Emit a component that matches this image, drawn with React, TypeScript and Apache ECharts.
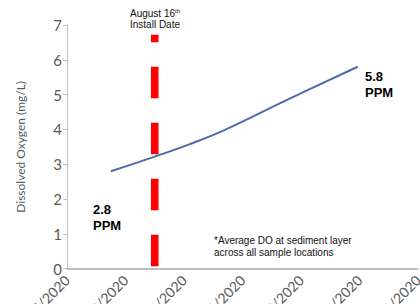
import React, { useEffect, useRef } from "react";
import * as echarts from "echarts";

// x positions are in "tick intervals" (weekly ticks), y in mg/L
const tickLabels = ["8/5/2020", "8/12/2020", "8/19/2020", "8/26/2020", "9/2/2020", "9/9/2020", "9/16/2020"];
const doX = [0.75, 1.5, 2.1, 2.7, 3.7, 4.97];
const doY = [2.8, 3.22, 3.58, 3.99, 4.8, 5.8];
const installX = 1.5;
const installYRange = [0.07, 6.72];
const startLabel = "2.8\nPPM";
const endLabel = "5.8\nPPM";

export default function App() {
  const ref = useRef<HTMLDivElement>(null);
  useEffect(() => {
    if (!ref.current) return;
    const chart = echarts.init(ref.current, null, { renderer: "svg" });
    const gray = "#595959";
    chart.setOption({
      animation: false,
      grid: { left: 67, right: 2, top: 25, bottom: 35.3, containLabel: false, outerBoundsMode: "none" },
      xAxis: {
        type: "value",
        min: 0,
        max: 6,
        interval: 1,
        axisLine: { show: true, lineStyle: { color: "#ABABAB", width: 1.5 } },
        axisTick: { show: false },
        splitLine: { show: false },
        axisLabel: {
          rotate: 45,
          margin: 9,
          color: gray,
          fontFamily: "Lato",
          fontSize: 14,
          formatter: (v: number) => tickLabels[Math.round(v)] ?? "",
        },
      },
      yAxis: {
        type: "value",
        min: 0,
        max: 7,
        interval: 1,
        name: "Dissolved Oxygen (mg/L)",
        nameLocation: "middle",
        nameGap: 41,
        nameTextStyle: { color: gray, fontFamily: "Lato", fontSize: 12 },
        axisLine: { show: true, lineStyle: { color: "#BFBFBF", width: 1 } },
        axisTick: { show: true, length: 4, lineStyle: { color: "#BFBFBF" } },
        splitLine: { show: false },
        axisLabel: { color: gray, fontFamily: "Lato", fontSize: 15, margin: 5 },
      },
      series: [
        {
          type: "line",
          data: installYRange.map((y) => [installX, y]),
          symbol: "none",
          lineStyle: { color: "#FF0000", width: 7.6, type: [31.6, 24.4], cap: "butt" },
          z: 1,
        },
        {
          type: "line",
          data: doX.map((x, i) => [x, doY[i]]),
          smooth: 0.4,
          symbol: "none",
          lineStyle: { color: "#4F6AA8", width: 2 },
          z: 3,
        },
      ],
      graphic: [
        {
          type: "text",
          x: 155,
          y: 8,
          style: {
            text: "{a|August 16}{s|th}\n{a|Install Date}",
            align: "center",
            rich: {
              a: { fontFamily: "Liberation Sans", fontSize: 10, fill: "#111", lineHeight: 11 },
              s: { fontFamily: "Liberation Sans", fontSize: 6, fill: "#111", verticalAlign: "top", lineHeight: 11 },
            },
          },
        },
        {
          type: "text",
          x: 93,
          y: 201,
          style: {
            text: startLabel,
            fontFamily: "Liberation Sans",
            fontWeight: "bold",
            fontSize: 13,
            lineHeight: 16,
            fill: "#000",
          },
        },
        {
          type: "text",
          x: 365,
          y: 68,
          style: {
            text: endLabel,
            fontFamily: "Liberation Sans",
            fontWeight: "bold",
            fontSize: 13,
            lineHeight: 16,
            fill: "#000",
          },
        },
        {
          type: "text",
          x: 214,
          y: 234,
          style: {
            text: "*Average DO at sediment layer\nacross all sample locations",
            fontFamily: "Liberation Sans",
            fontSize: 10,
            lineHeight: 12.5,
            fill: "#111",
          },
        },
      ],
    });
    return () => chart.dispose();
  }, []);
  return (
    <div
      ref={ref}
      style={{ position: "fixed", top: 0, left: 0, width: 420, height: 304, background: "#fff" }}
    />
  );
}
